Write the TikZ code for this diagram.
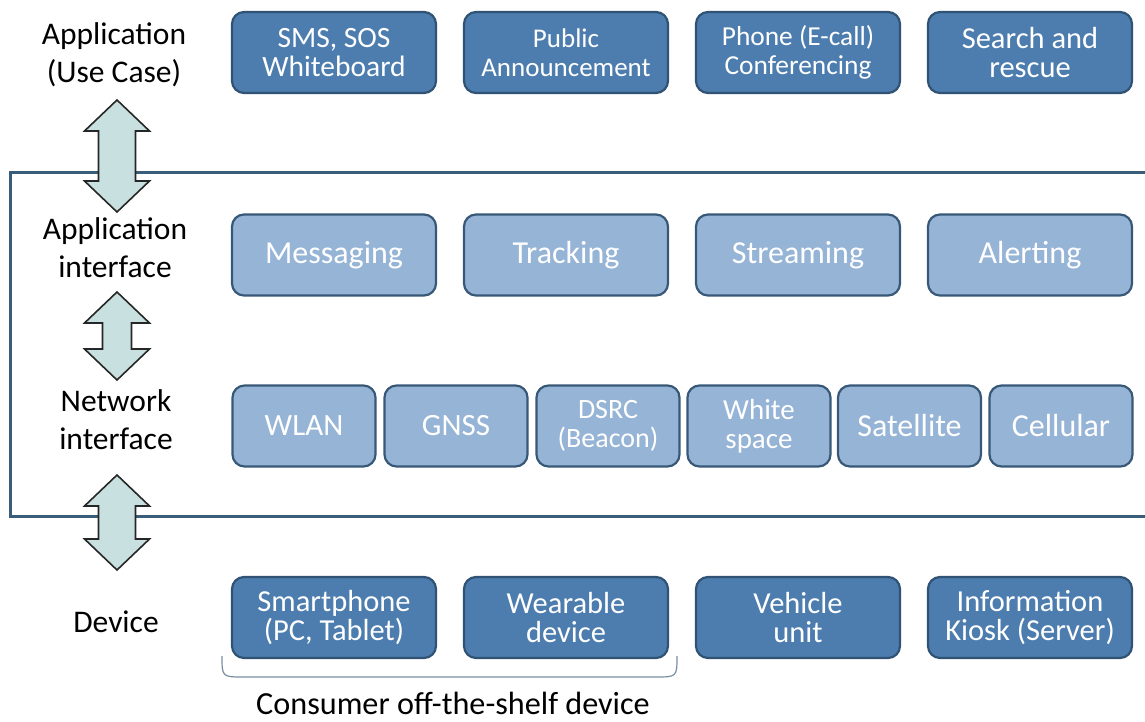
\documentclass[tikz,border=0pt]{standalone}
\usepackage{fontspec}
\setmainfont{Carlito}
\definecolor{darkfill}{RGB}{76,125,174}
\definecolor{darkedge}{RGB}{48,82,116}
\definecolor{lightfill}{RGB}{150,180,214}
\definecolor{lightedge}{RGB}{56,88,120}
\definecolor{arrowfill}{RGB}{200,224,224}
\definecolor{frameline}{RGB}{58,94,122}
\definecolor{braceline}{RGB}{120,140,160}
\newcommand{\fs}[2]{\fontsize{#1}{#2}\selectfont}
\tikzset{
  x=1pt, y=-1pt,
  blk/.style={rounded corners=12pt, line width=2.2pt, text=white, align=center,
              inner sep=0pt, minimum height=81pt},
  darkbox/.style={blk, fill=darkfill, draw=darkedge, minimum width=204pt},
  lightbox/.style={blk, fill=lightfill, draw=lightedge, minimum width=204pt},
  netbox/.style={blk, fill=lightfill, draw=lightedge, minimum width=143pt},
  sidelabel/.style={align=center, font=\fontsize{31.5}{38}\selectfont, text=black},
  updown/.style={fill=arrowfill, draw=black!85, line width=1.6pt, line join=miter},
  frame/.style={draw=frameline, line width=3pt},
  bracket/.style={draw=braceline, line width=1.2pt}
}
% vertical double-headed block arrow: centre x, top y, bottom y, shaft half width
\newcommand{\layerarrow}[4]{%
  \draw[updown] (#1,#2) -- (#1+32.5,#2+31) -- (#1+#4,#2+31) -- (#1+#4,#3-31)
    -- (#1+32.5,#3-31) -- (#1,#3) -- (#1-32.5,#3-31) -- (#1-#4,#3-31)
    -- (#1-#4,#2+31) -- (#1-32.5,#2+31) -- cycle;}
\begin{document}
\begin{tikzpicture}
\useasboundingbox (0,0) rectangle (1145,722);

% layer frame around the two interface rows (open on the right)
\draw[frame] (1146,173) -- (10,173) -- (10,516) -- (1146,516);

% side labels
\node[sidelabel] (lapp) at (114,55) {Application\\(Use Case)};
\node[sidelabel] (lai)  at (115,248) {Application\\interface};
\node[sidelabel] (lni)  at (116,420) {Network\\interface};
\node[sidelabel] (ldev) at (116,622) {Device};

% block arrows between layers
\layerarrow{117}{100}{212}{18.5}
\layerarrow{117}{292}{380}{14.5}
\layerarrow{117}{475}{570}{18.5}

% use cases
\node[darkbox, font=\fs{29.5}{29}] (sms)   at (334,52.5) {SMS, SOS\\Whiteboard};
\node[darkbox, font=\fs{27}{29}] (pub)   at (566,52.5) {Public\\Announcement};
\node[darkbox, font=\fs{27.4}{29}] (phone) at (798,52.5) {Phone (E-call)\\Conferencing};
\node[darkbox, font=\fs{30.5}{29}] (sar)   at (1030,52.5) {Search and\\rescue};

% application interface
\node[lightbox, font=\fs{32}{36}] (msg) at (334,255) {Messaging};
\node[lightbox, font=\fs{32}{36}] (trk) at (566,255) {Tracking};
\node[lightbox, font=\fs{32}{36}] (str) at (798,255) {Streaming};
\node[lightbox, font=\fs{32}{36}] (alr) at (1030,255) {Alerting};

% network interface
\node[netbox, font=\fs{31}{36}] (wlan) at (304,426) {WLAN};
\node[netbox, font=\fs{31}{36}] (gnss) at (456,426) {GNSS};
\node[netbox, font=\fs{28}{29}] (dsrc) at (608,426) {DSRC\\(Beacon)};
\node[netbox, font=\fs{29}{29}] (ws)   at (759,426) {White\\space};
\node[netbox, font=\fs{32}{36}] (sat)  at (909.5,426) {Satellite};
\node[netbox, font=\fs{32}{36}] (cell) at (1061,426) {Cellular};

% devices
\node[darkbox, font=\fs{30.5}{29}] (phonedev) at (334,617.5) {Smartphone\\(PC, Tablet)};
\node[darkbox, font=\fs{30.5}{29}] (wear)     at (566,617.5) {Wearable\\device};
\node[darkbox, font=\fs{30.5}{29}] (veh)      at (798,617.5) {Vehicle\\unit};
\node[darkbox, font=\fs{30.5}{29}] (kiosk)    at (1030,617.5) {Information\\Kiosk (Server)};

% consumer devices bracket
\coordinate (bl) at (222,656);
\coordinate (br) at (677,656);
\draw[bracket] (bl) .. controls (222,677) .. (244,677) -- (655,677)
  .. controls (677,677) .. (br);
\node[font=\fontsize{32.2}{36}\selectfont] (cots) at (453,703) {Consumer off-the-shelf device};
\end{tikzpicture}
\end{document}
